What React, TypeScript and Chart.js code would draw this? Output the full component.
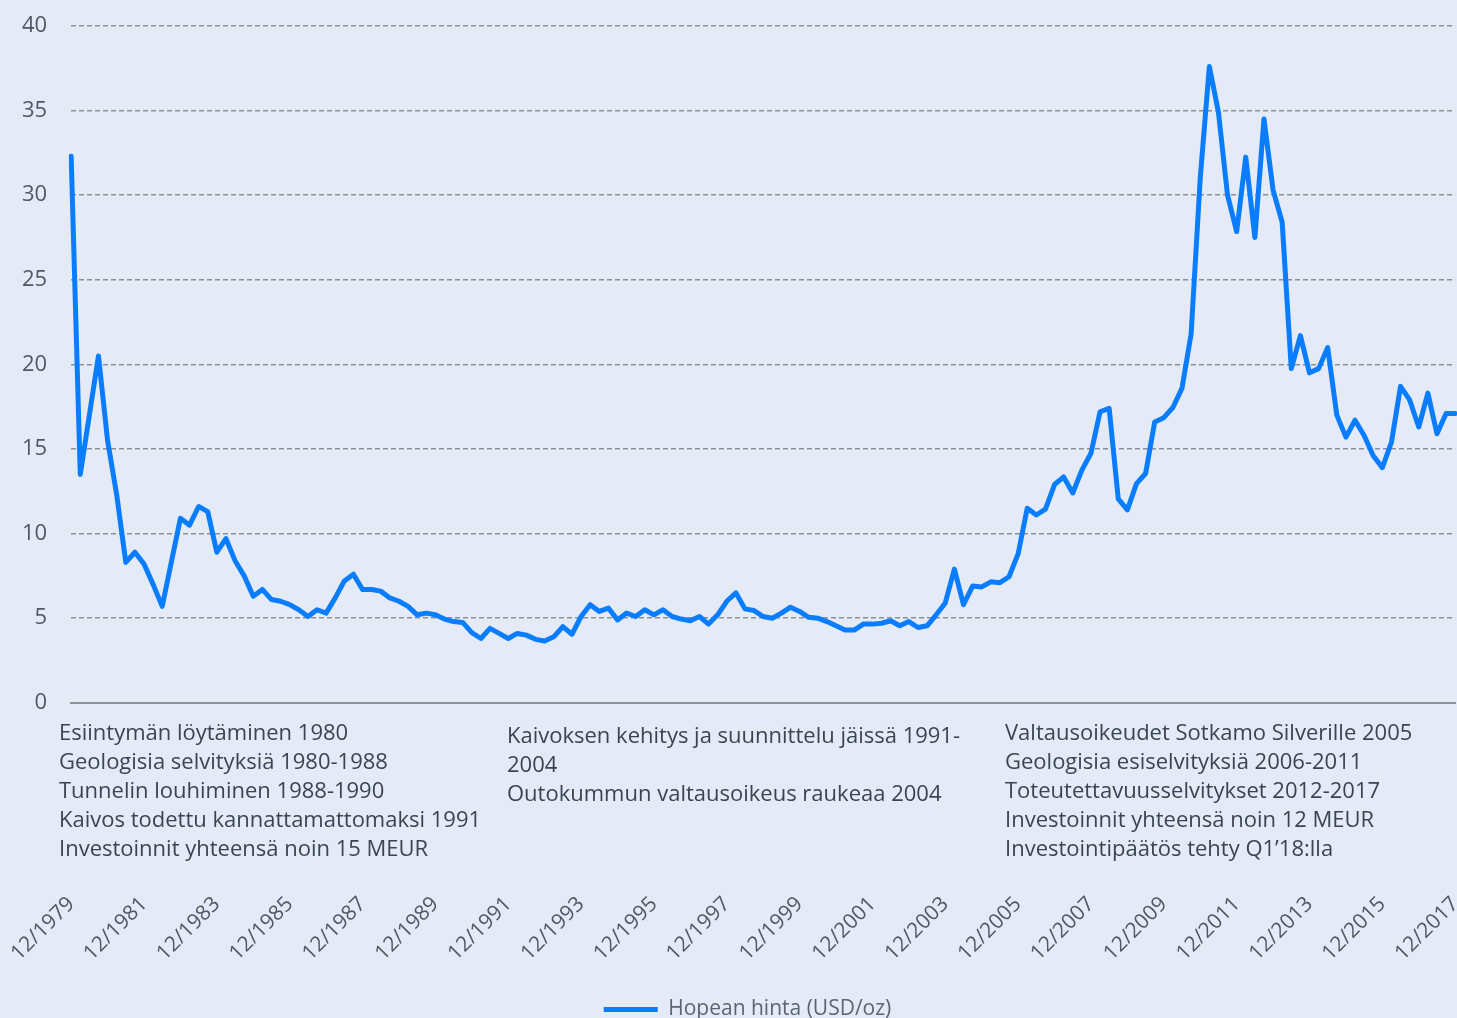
import React, { useEffect, useRef } from 'react';
import { Chart, registerables } from 'chart.js';

Chart.register(...registerables);

// Quarterly silver price, USD/oz (12/1979 ... 12/2017)
const price1980s = [
  32.3, 13.5, 17.0, 20.5, 15.5, 12.3, 8.3, 8.9, 8.2, 7.0,
  5.7, 8.3, 10.9, 10.5, 11.6, 11.3, 8.9, 9.7, 8.4, 7.5,
  6.3, 6.7, 6.1, 6.0, 5.8, 5.5, 5.1, 5.5, 5.3, 6.2,
  7.2, 7.6, 6.7, 6.7, 6.6, 6.2, 6.0, 5.7, 5.2, 5.3,
  5.2,
];
const price1990s = [
  4.95, 4.8, 4.75, 4.15, 3.8, 4.4, 4.1, 3.8, 4.1, 4.0,
  3.75, 3.65, 3.9, 4.5, 4.05, 5.1, 5.8, 5.4, 5.6, 4.9,
  5.3, 5.1, 5.5, 5.2, 5.5, 5.1, 4.95, 4.85, 5.1, 4.65,
  5.2, 6.0, 6.5, 5.55, 5.45, 5.1, 5.0, 5.3, 5.65, 5.4,
];
const price2000s = [
  5.05, 5.0, 4.8, 4.55, 4.3, 4.3, 4.65, 4.65, 4.7, 4.85,
  4.55, 4.8, 4.45, 4.55, 5.2, 5.9, 7.9, 5.8, 6.9, 6.85,
  7.15, 7.1, 7.45, 8.8, 11.5, 11.1, 11.45, 12.9, 13.35, 12.4,
  13.75, 14.75, 17.2, 17.4, 12.05, 11.4, 12.95, 13.55, 16.6, 16.85,
];
const price2010s = [
  17.45, 18.6, 21.8, 31.0, 37.6, 34.9, 30.0, 27.85, 32.25, 27.5,
  34.5, 30.3, 28.4, 19.75, 21.7, 19.5, 19.75, 21.0, 17.0, 15.7,
  16.7, 15.8, 14.6, 13.9, 15.4, 18.7, 17.9, 16.3, 18.3, 15.9,
  17.1, 17.1,
];
const priceValues = [...price1980s, ...price1990s, ...price2000s, ...price2010s];

const quarterMonths = [12, 3, 6, 9];
const firstYear = 1979;
const categories: string[] = priceValues.map((_, i) =>
  `${quarterMonths[i % 4]}/${firstYear + Math.ceil(i / 4)}`
);

const seriesLabel = 'Hopean hinta (USD/oz)';

const notesLeft = [
  'Esiintymän löytäminen 1980',
  'Geologisia selvityksiä 1980-1988',
  'Tunnelin louhiminen 1988-1990',
  'Kaivos todettu kannattamattomaksi 1991',
  'Investoinnit yhteensä noin 15 MEUR',
];
const notesMiddle = [
  'Kaivoksen kehitys ja suunnittelu jäissä 1991-',
  '2004',
  'Outokummun valtausoikeus raukeaa 2004',
];
const notesRight = [
  'Valtausoikeudet Sotkamo Silverille 2005',
  'Geologisia esiselvityksiä 2006-2011',
  'Toteutettavuusselvitykset 2012-2017',
  'Investoinnit yhteensä noin 12 MEUR',
  'Investointipäätös tehty Q1’18:lla',
];

const FONT = '"Open Sans"';

const notesPlugin = {
  id: 'notesPlugin',
  afterDraw(chart: any) {
    const ctx = chart.ctx as CanvasRenderingContext2D;
    const base = chart.chartArea.bottom;
    const cols = [
      { x: 59, dy: 31, lines: notesLeft },
      { x: 507, dy: 34, lines: notesMiddle },
      { x: 1005, dy: 31, lines: notesRight },
    ];
    ctx.save();
    ctx.font = `22px ${FONT}`;
    ctx.fillStyle = '#3b4552';
    ctx.textBaseline = 'middle';
    ctx.textAlign = 'left';
    cols.forEach((c) => c.lines.forEach((t, k) => ctx.fillText(t, c.x, base + c.dy + k * 29)));
    ctx.restore();
  },
};

const bgPlugin = {
  id: 'bgPlugin',
  beforeDraw(chart: any) {
    const ctx = chart.ctx as CanvasRenderingContext2D;
    ctx.save();
    ctx.fillStyle = '#e4ebf6';
    ctx.fillRect(0, 0, chart.width, chart.height);
    ctx.restore();
  },
};

export default function App() {
  const canvasRef = useRef<HTMLCanvasElement | null>(null);

  useEffect(() => {
    if (!canvasRef.current) return;
    const chart = new Chart(canvasRef.current, {
      type: 'line',
      data: {
        labels: categories,
        datasets: [
          {
            label: seriesLabel,
            data: priceValues,
            borderColor: '#0a7dff',
            backgroundColor: '#0a7dff',
            borderWidth: 5,
            borderCapStyle: 'round',
            borderJoinStyle: 'round',
            pointRadius: 0,
            tension: 0,
            fill: false,
          },
        ],
      },
      options: {
        animation: false,
        responsive: true,
        maintainAspectRatio: false,
        layout: { padding: { left: 22, top: 26, right: 0, bottom: -2 } },
        plugins: {
          legend: {
            position: 'bottom',
            labels: {
              usePointStyle: true,
              pointStyle: 'line',
              pointStyleWidth: 54,
              color: '#5b6573',
              font: { family: FONT, size: 21 },
              padding: 33,
            },
          },
          tooltip: { enabled: false },
        },
        scales: {
          x: {
            grid: { display: false, drawTicks: true, tickLength: 189 },
            border: { display: true, color: '#8b9099', width: 2 },
            ticks: {
              autoSkip: false,
              maxRotation: 45,
              minRotation: 45,
              padding: 0,
              color: '#4f5966',
              font: { family: FONT, size: 21 },
              callback: (_v: any, i: number) => (i % 8 === 0 ? categories[i] : null),
            },
          },
          y: {
            min: 0,
            max: 40,
            grid: {
              drawTicks: true,
              tickLength: 24,
              tickColor: 'rgba(0,0,0,0)',
              color: (c: any) => (c.tick && c.tick.value === 0 ? 'rgba(0,0,0,0)' : '#8b8f97'),
              lineWidth: 1.5,
            },
            border: { display: false, dash: [5, 3] },
            ticks: {
              stepSize: 5,
              padding: 0,
              color: '#4f5966',
              font: { family: FONT, size: 22 },
            },
          },
        },
      },
      plugins: [bgPlugin, notesPlugin],
    } as any);
    return () => chart.destroy();
  }, []);

  return (
    <div style={{ position: 'fixed', left: 0, top: 0, width: 1457, height: 1018, overflow: 'hidden', background: '#e4ebf6' }}>
      <div style={{ position: 'absolute', left: 0, top: 0, width: 1473, height: 1028 }}>
        <canvas ref={canvasRef} />
      </div>
    </div>
  );
}
